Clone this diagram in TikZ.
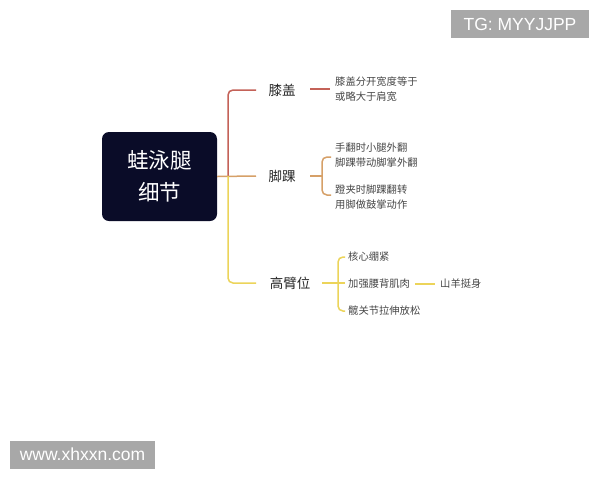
\documentclass[tikz,border=0pt]{standalone}
\usepackage{fontspec}
\setmainfont{Liberation Sans}
\newfontfamily\cjk{Noto Sans CJK SC}
\begin{document}
\begin{tikzpicture}[x=1pt,y=-1pt,
  redc/.style={draw={rgb,255:red,196;green,98;blue,88},line width=1.5pt,rounded corners=5pt},
  orac/.style={draw={rgb,255:red,214;green,160;blue,104},line width=1.5pt,rounded corners=5pt},
  yelc/.style={draw={rgb,255:red,236;green,212;blue,90},line width=1.5pt,rounded corners=5pt},
  lab/.style={font=\cjk\fontsize{13.5}{15}\selectfont,text={rgb,255:red,40;green,40;blue,40},inner sep=0pt},
  small/.style={font=\cjk\fontsize{10.3}{15}\selectfont,text={rgb,255:red,70;green,70;blue,70},inner sep=0pt,anchor=west,align=left},
  wm/.style={fill={rgb,255:red,168;green,168;blue,168},text=white,font=\fontsize{17.5}{19}\selectfont,inner sep=0pt,minimum height=28pt}]
\useasboundingbox[fill=white] (0,0) rectangle (600,480);
% watermarks
\node[wm,minimum width=138pt] (wm1) at (520,24) {TG: MYYJJPP};
\node[wm,minimum width=145pt] (wm2) at (82.5,454.5) {www.xhxxn.com};
% root
\node[fill={rgb,255:red,10;green,12;blue,40},rounded corners=7pt,minimum width=115pt,minimum height=89pt,text=white,font=\cjk\fontsize{21.5}{32}\selectfont,align=center] (root) at (159.5,176.5) {蛙泳腿\\细节};
% level 1 labels
\node[lab] (n1) at (282,90) {膝盖};
\node[lab] (n2) at (282,176) {脚踝};
\node[lab] (n3) at (290,283) {高臂位};
\coordinate (j) at (228,176);
\draw[redc] (j) -- (228,90) -- (n1.west -| 256,90);
\draw[orac] (root.east) -- (256,176);
\draw[yelc] (j) -- (228,283) -- (256,283);
% knee
\node[small] (k1) at (335,89.5) {膝盖分开宽度等于\\或略大于肩宽};
\draw[redc] (310,89) -- (330,89);
% ankle
\node[small] (a1) at (335,155) {手翻时小腿外翻\\脚踝带动脚掌外翻};
\node[small] (a2) at (335,197.5) {蹬夹时脚踝翻转\\用脚做鼓掌动作};
\draw[orac] (310,176) -- (322,176);
\draw[orac] (331,157) -- (322,157) -- (322,195) -- (331,195);
% high elbow
\node[small] (h1) at (348,257) {核心绷紧};
\node[small] (h2) at (348,284) {加强腰背肌肉};
\node[small] (h3) at (348,311) {髋关节拉伸放松};
\node[small] (h4) at (440,284) {山羊挺身};
\draw[yelc] (322,283) -- (345,283);
\draw[yelc] (345,257) -- (338,257) -- (338,311) -- (345,311);
\draw[yelc] (h2.east) ++(5,0) -- (435,284);
\end{tikzpicture}
\end{document}
